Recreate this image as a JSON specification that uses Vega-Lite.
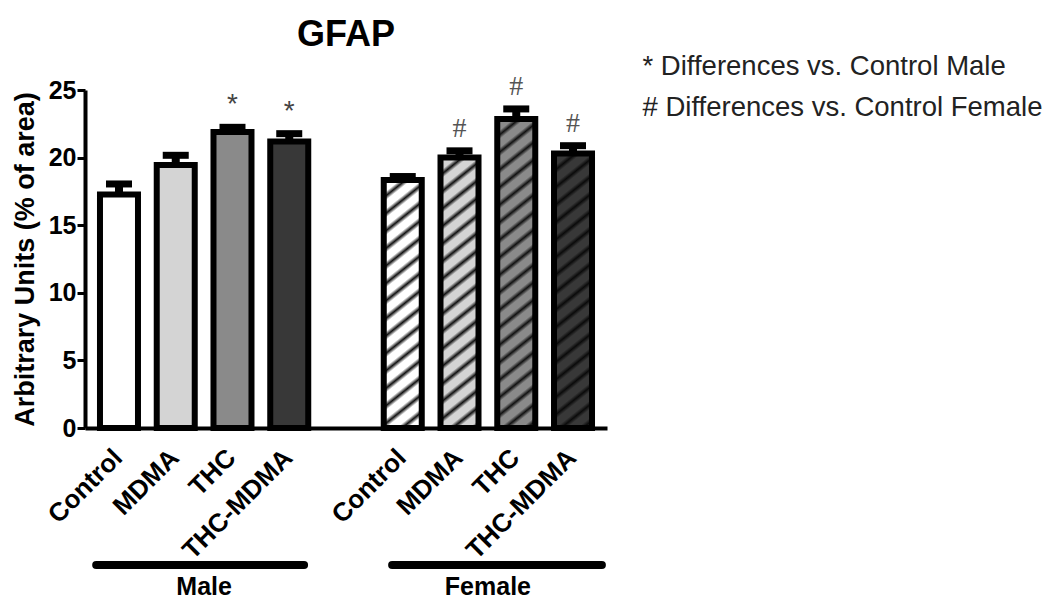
{
  "$schema": "https://vega.github.io/schema/vega-lite/v6.json",
  "width": 522,
  "height": 338,
  "autosize": "none",
  "padding": {"left": 85, "top": 90, "right": 440, "bottom": 173},
  "background": "white",
  "title": {"text": "GFAP", "fontSize": 36, "font": "Liberation Sans", "fontWeight": "bold", "color": "black", "anchor": "middle", "frame": "group", "offset": -1},
  "config": {"font": "Liberation Sans", "view": {"stroke": null}},
  "datasets": {
    "bars": [
      {"key": "M|Control", "sex": "Male", "treat": "Control", "mean": 17.27, "upper": 18.05, "sig": ""},
      {"key": "M|MDMA", "sex": "Male", "treat": "MDMA", "mean": 19.45, "upper": 20.17, "sig": ""},
      {"key": "M|THC", "sex": "Male", "treat": "THC", "mean": 21.9, "upper": 22.24, "sig": "*"},
      {"key": "M|THC-MDMA", "sex": "Male", "treat": "THC-MDMA", "mean": 21.2, "upper": 21.77, "sig": "*"},
      {"key": "F|Control", "sex": "Female", "treat": "Control", "mean": 18.34, "upper": 18.6, "sig": ""},
      {"key": "F|MDMA", "sex": "Female", "treat": "MDMA", "mean": 20.0, "upper": 20.5, "sig": "#"},
      {"key": "F|THC", "sex": "Female", "treat": "THC", "mean": 22.85, "upper": 23.6, "sig": "#"},
      {"key": "F|THC-MDMA", "sex": "Female", "treat": "THC-MDMA", "mean": 20.3, "upper": 20.88, "sig": "#"}
    ],
    "groups": [
      {"group": "Male", "first": "M|Control", "last": "M|THC-MDMA", "mid": "M|MDMA"},
      {"group": "Female", "first": "F|Control", "last": "F|THC-MDMA", "mid": "F|MDMA"}
    ]
  },
  "layer": [
    {
      "data": {"name": "bars"},
      "mark": {"type": "bar", "stroke": "black", "strokeWidth": 6, "strokeJoin": "miter"},
      "encoding": {
        "x": {"field": "key", "type": "nominal", "sort": null,
          "scale": {"domain": ["M|Control", "M|MDMA", "M|THC", "M|THC-MDMA", "gap", "F|Control", "F|MDMA", "F|THC", "F|THC-MDMA"], "paddingInner": 0.3304, "paddingOuter": 0.264},
          "axis": {"title": null, "ticks": false, "domainColor": "black", "domainWidth": 4, "labelAngle": -45, "labelFontSize": 26, "labelFontWeight": "bold", "labelColor": "black", "labelPadding": 16, "labelOffset": -10, "labelLimit": 400, "labelOverlap": false, "labelBound": false,
            "labelExpr": "datum.value === 'gap' ? '' : split(datum.value, '|')[1]"}},
        "y": {"field": "mean", "type": "quantitative",
          "scale": {"domain": [0, 25], "nice": false, "zero": true},
          "axis": {"title": "Arbitrary Units (% of area)", "titleFontSize": 27, "titleFontWeight": "bold", "titleColor": "black", "titlePadding": 9, "values": [0, 5, 10, 15, 20, 25], "grid": false, "domainColor": "black", "domainWidth": 4, "tickColor": "black", "tickWidth": 3, "tickSize": 8, "labelFontSize": 25, "labelFontWeight": "bold", "labelColor": "black", "labelPadding": 1}},
        "fill": {"field": "key", "type": "nominal", "legend": null,
          "scale": {"domain": ["M|Control", "M|MDMA", "M|THC", "M|THC-MDMA", "F|Control", "F|MDMA", "F|THC", "F|THC-MDMA"], "range": ["#ffffff", "#d4d4d4", "#8a8a8a", "#383838", "#ffffff", "#d4d4d4", "#8a8a8a", "#383838"]},
          "condition": [
            {"test": "datum.key === 'F|Control'", "value": {"gradient": "linear", "x1": 0, "y1": 0, "x2": 0.1704, "y2": 1.3904, "stops": [
              {"offset": 0, "color": "#111111"}, {"offset": 0.013, "color": "#ffffff"}, {"offset": 0.037, "color": "#ffffff"},
              {"offset": 0.05, "color": "#111111"}, {"offset": 0.063, "color": "#ffffff"}, {"offset": 0.087, "color": "#ffffff"},
              {"offset": 0.10, "color": "#111111"}, {"offset": 0.113, "color": "#ffffff"}, {"offset": 0.137, "color": "#ffffff"},
              {"offset": 0.15, "color": "#111111"}, {"offset": 0.163, "color": "#ffffff"}, {"offset": 0.187, "color": "#ffffff"},
              {"offset": 0.20, "color": "#111111"}, {"offset": 0.213, "color": "#ffffff"}, {"offset": 0.237, "color": "#ffffff"},
              {"offset": 0.25, "color": "#111111"}, {"offset": 0.263, "color": "#ffffff"}, {"offset": 0.287, "color": "#ffffff"},
              {"offset": 0.30, "color": "#111111"}, {"offset": 0.313, "color": "#ffffff"}, {"offset": 0.337, "color": "#ffffff"},
              {"offset": 0.35, "color": "#111111"}, {"offset": 0.363, "color": "#ffffff"}, {"offset": 0.387, "color": "#ffffff"},
              {"offset": 0.40, "color": "#111111"}, {"offset": 0.413, "color": "#ffffff"}, {"offset": 0.437, "color": "#ffffff"},
              {"offset": 0.45, "color": "#111111"}, {"offset": 0.463, "color": "#ffffff"}, {"offset": 0.487, "color": "#ffffff"},
              {"offset": 0.50, "color": "#111111"}, {"offset": 0.513, "color": "#ffffff"}, {"offset": 0.537, "color": "#ffffff"},
              {"offset": 0.55, "color": "#111111"}, {"offset": 0.563, "color": "#ffffff"}, {"offset": 0.587, "color": "#ffffff"},
              {"offset": 0.60, "color": "#111111"}, {"offset": 0.613, "color": "#ffffff"}, {"offset": 0.637, "color": "#ffffff"},
              {"offset": 0.65, "color": "#111111"}, {"offset": 0.663, "color": "#ffffff"}, {"offset": 0.687, "color": "#ffffff"},
              {"offset": 0.70, "color": "#111111"}, {"offset": 0.713, "color": "#ffffff"}, {"offset": 0.737, "color": "#ffffff"},
              {"offset": 0.75, "color": "#111111"}, {"offset": 0.763, "color": "#ffffff"}, {"offset": 0.787, "color": "#ffffff"},
              {"offset": 0.80, "color": "#111111"}, {"offset": 0.813, "color": "#ffffff"}, {"offset": 0.837, "color": "#ffffff"},
              {"offset": 0.85, "color": "#111111"}, {"offset": 0.863, "color": "#ffffff"}, {"offset": 0.887, "color": "#ffffff"},
              {"offset": 0.90, "color": "#111111"}, {"offset": 0.913, "color": "#ffffff"}, {"offset": 0.937, "color": "#ffffff"},
              {"offset": 0.95, "color": "#111111"}, {"offset": 0.963, "color": "#ffffff"}, {"offset": 0.987, "color": "#ffffff"},
              {"offset": 1, "color": "#111111"}]}},
            {"test": "datum.key === 'F|MDMA'", "value": {"gradient": "linear", "x1": 0, "y1": 0, "x2": 0.1437, "y2": 1.2782, "stops": [
              {"offset": 0, "color": "#111111"}, {"offset": 0.013, "color": "#d4d4d4"}, {"offset": 0.037, "color": "#d4d4d4"},
              {"offset": 0.05, "color": "#111111"}, {"offset": 0.063, "color": "#d4d4d4"}, {"offset": 0.087, "color": "#d4d4d4"},
              {"offset": 0.10, "color": "#111111"}, {"offset": 0.113, "color": "#d4d4d4"}, {"offset": 0.137, "color": "#d4d4d4"},
              {"offset": 0.15, "color": "#111111"}, {"offset": 0.163, "color": "#d4d4d4"}, {"offset": 0.187, "color": "#d4d4d4"},
              {"offset": 0.20, "color": "#111111"}, {"offset": 0.213, "color": "#d4d4d4"}, {"offset": 0.237, "color": "#d4d4d4"},
              {"offset": 0.25, "color": "#111111"}, {"offset": 0.263, "color": "#d4d4d4"}, {"offset": 0.287, "color": "#d4d4d4"},
              {"offset": 0.30, "color": "#111111"}, {"offset": 0.313, "color": "#d4d4d4"}, {"offset": 0.337, "color": "#d4d4d4"},
              {"offset": 0.35, "color": "#111111"}, {"offset": 0.363, "color": "#d4d4d4"}, {"offset": 0.387, "color": "#d4d4d4"},
              {"offset": 0.40, "color": "#111111"}, {"offset": 0.413, "color": "#d4d4d4"}, {"offset": 0.437, "color": "#d4d4d4"},
              {"offset": 0.45, "color": "#111111"}, {"offset": 0.463, "color": "#d4d4d4"}, {"offset": 0.487, "color": "#d4d4d4"},
              {"offset": 0.50, "color": "#111111"}, {"offset": 0.513, "color": "#d4d4d4"}, {"offset": 0.537, "color": "#d4d4d4"},
              {"offset": 0.55, "color": "#111111"}, {"offset": 0.563, "color": "#d4d4d4"}, {"offset": 0.587, "color": "#d4d4d4"},
              {"offset": 0.60, "color": "#111111"}, {"offset": 0.613, "color": "#d4d4d4"}, {"offset": 0.637, "color": "#d4d4d4"},
              {"offset": 0.65, "color": "#111111"}, {"offset": 0.663, "color": "#d4d4d4"}, {"offset": 0.687, "color": "#d4d4d4"},
              {"offset": 0.70, "color": "#111111"}, {"offset": 0.713, "color": "#d4d4d4"}, {"offset": 0.737, "color": "#d4d4d4"},
              {"offset": 0.75, "color": "#111111"}, {"offset": 0.763, "color": "#d4d4d4"}, {"offset": 0.787, "color": "#d4d4d4"},
              {"offset": 0.80, "color": "#111111"}, {"offset": 0.813, "color": "#d4d4d4"}, {"offset": 0.837, "color": "#d4d4d4"},
              {"offset": 0.85, "color": "#111111"}, {"offset": 0.863, "color": "#d4d4d4"}, {"offset": 0.887, "color": "#d4d4d4"},
              {"offset": 0.90, "color": "#111111"}, {"offset": 0.913, "color": "#d4d4d4"}, {"offset": 0.937, "color": "#d4d4d4"},
              {"offset": 0.95, "color": "#111111"}, {"offset": 0.963, "color": "#d4d4d4"}, {"offset": 0.987, "color": "#d4d4d4"},
              {"offset": 1, "color": "#111111"}]}},
            {"test": "datum.key === 'F|THC'", "value": {"gradient": "linear", "x1": 0, "y1": 0, "x2": 0.1104, "y2": 1.1222, "stops": [
              {"offset": 0, "color": "#111111"}, {"offset": 0.013, "color": "#8a8a8a"}, {"offset": 0.037, "color": "#8a8a8a"},
              {"offset": 0.05, "color": "#111111"}, {"offset": 0.063, "color": "#8a8a8a"}, {"offset": 0.087, "color": "#8a8a8a"},
              {"offset": 0.10, "color": "#111111"}, {"offset": 0.113, "color": "#8a8a8a"}, {"offset": 0.137, "color": "#8a8a8a"},
              {"offset": 0.15, "color": "#111111"}, {"offset": 0.163, "color": "#8a8a8a"}, {"offset": 0.187, "color": "#8a8a8a"},
              {"offset": 0.20, "color": "#111111"}, {"offset": 0.213, "color": "#8a8a8a"}, {"offset": 0.237, "color": "#8a8a8a"},
              {"offset": 0.25, "color": "#111111"}, {"offset": 0.263, "color": "#8a8a8a"}, {"offset": 0.287, "color": "#8a8a8a"},
              {"offset": 0.30, "color": "#111111"}, {"offset": 0.313, "color": "#8a8a8a"}, {"offset": 0.337, "color": "#8a8a8a"},
              {"offset": 0.35, "color": "#111111"}, {"offset": 0.363, "color": "#8a8a8a"}, {"offset": 0.387, "color": "#8a8a8a"},
              {"offset": 0.40, "color": "#111111"}, {"offset": 0.413, "color": "#8a8a8a"}, {"offset": 0.437, "color": "#8a8a8a"},
              {"offset": 0.45, "color": "#111111"}, {"offset": 0.463, "color": "#8a8a8a"}, {"offset": 0.487, "color": "#8a8a8a"},
              {"offset": 0.50, "color": "#111111"}, {"offset": 0.513, "color": "#8a8a8a"}, {"offset": 0.537, "color": "#8a8a8a"},
              {"offset": 0.55, "color": "#111111"}, {"offset": 0.563, "color": "#8a8a8a"}, {"offset": 0.587, "color": "#8a8a8a"},
              {"offset": 0.60, "color": "#111111"}, {"offset": 0.613, "color": "#8a8a8a"}, {"offset": 0.637, "color": "#8a8a8a"},
              {"offset": 0.65, "color": "#111111"}, {"offset": 0.663, "color": "#8a8a8a"}, {"offset": 0.687, "color": "#8a8a8a"},
              {"offset": 0.70, "color": "#111111"}, {"offset": 0.713, "color": "#8a8a8a"}, {"offset": 0.737, "color": "#8a8a8a"},
              {"offset": 0.75, "color": "#111111"}, {"offset": 0.763, "color": "#8a8a8a"}, {"offset": 0.787, "color": "#8a8a8a"},
              {"offset": 0.80, "color": "#111111"}, {"offset": 0.813, "color": "#8a8a8a"}, {"offset": 0.837, "color": "#8a8a8a"},
              {"offset": 0.85, "color": "#111111"}, {"offset": 0.863, "color": "#8a8a8a"}, {"offset": 0.887, "color": "#8a8a8a"},
              {"offset": 0.90, "color": "#111111"}, {"offset": 0.913, "color": "#8a8a8a"}, {"offset": 0.937, "color": "#8a8a8a"},
              {"offset": 0.95, "color": "#111111"}, {"offset": 0.963, "color": "#8a8a8a"}, {"offset": 0.987, "color": "#8a8a8a"},
              {"offset": 1, "color": "#111111"}]}},
            {"test": "datum.key === 'F|THC-MDMA'", "value": {"gradient": "linear", "x1": 0, "y1": 0, "x2": 0.1395, "y2": 1.2597, "stops": [
              {"offset": 0, "color": "#0a0a0a"}, {"offset": 0.013, "color": "#383838"}, {"offset": 0.037, "color": "#383838"},
              {"offset": 0.05, "color": "#0a0a0a"}, {"offset": 0.063, "color": "#383838"}, {"offset": 0.087, "color": "#383838"},
              {"offset": 0.10, "color": "#0a0a0a"}, {"offset": 0.113, "color": "#383838"}, {"offset": 0.137, "color": "#383838"},
              {"offset": 0.15, "color": "#0a0a0a"}, {"offset": 0.163, "color": "#383838"}, {"offset": 0.187, "color": "#383838"},
              {"offset": 0.20, "color": "#0a0a0a"}, {"offset": 0.213, "color": "#383838"}, {"offset": 0.237, "color": "#383838"},
              {"offset": 0.25, "color": "#0a0a0a"}, {"offset": 0.263, "color": "#383838"}, {"offset": 0.287, "color": "#383838"},
              {"offset": 0.30, "color": "#0a0a0a"}, {"offset": 0.313, "color": "#383838"}, {"offset": 0.337, "color": "#383838"},
              {"offset": 0.35, "color": "#0a0a0a"}, {"offset": 0.363, "color": "#383838"}, {"offset": 0.387, "color": "#383838"},
              {"offset": 0.40, "color": "#0a0a0a"}, {"offset": 0.413, "color": "#383838"}, {"offset": 0.437, "color": "#383838"},
              {"offset": 0.45, "color": "#0a0a0a"}, {"offset": 0.463, "color": "#383838"}, {"offset": 0.487, "color": "#383838"},
              {"offset": 0.50, "color": "#0a0a0a"}, {"offset": 0.513, "color": "#383838"}, {"offset": 0.537, "color": "#383838"},
              {"offset": 0.55, "color": "#0a0a0a"}, {"offset": 0.563, "color": "#383838"}, {"offset": 0.587, "color": "#383838"},
              {"offset": 0.60, "color": "#0a0a0a"}, {"offset": 0.613, "color": "#383838"}, {"offset": 0.637, "color": "#383838"},
              {"offset": 0.65, "color": "#0a0a0a"}, {"offset": 0.663, "color": "#383838"}, {"offset": 0.687, "color": "#383838"},
              {"offset": 0.70, "color": "#0a0a0a"}, {"offset": 0.713, "color": "#383838"}, {"offset": 0.737, "color": "#383838"},
              {"offset": 0.75, "color": "#0a0a0a"}, {"offset": 0.763, "color": "#383838"}, {"offset": 0.787, "color": "#383838"},
              {"offset": 0.80, "color": "#0a0a0a"}, {"offset": 0.813, "color": "#383838"}, {"offset": 0.837, "color": "#383838"},
              {"offset": 0.85, "color": "#0a0a0a"}, {"offset": 0.863, "color": "#383838"}, {"offset": 0.887, "color": "#383838"},
              {"offset": 0.90, "color": "#0a0a0a"}, {"offset": 0.913, "color": "#383838"}, {"offset": 0.937, "color": "#383838"},
              {"offset": 0.95, "color": "#0a0a0a"}, {"offset": 0.963, "color": "#383838"}, {"offset": 0.987, "color": "#383838"},
              {"offset": 1, "color": "#0a0a0a"}]}}
          ]}
      }
    },
    {
      "data": {"name": "bars"},
      "mark": {"type": "rule", "color": "black", "strokeWidth": 8},
      "encoding": {
        "x": {"field": "key", "type": "nominal"},
        "y": {"field": "mean", "type": "quantitative"},
        "y2": {"field": "upper"}
      }
    },
    {
      "data": {"name": "bars"},
      "mark": {"type": "tick", "color": "black", "thickness": 7, "size": 26, "opacity": 1},
      "encoding": {
        "x": {"field": "key", "type": "nominal"},
        "y": {"field": "upper", "type": "quantitative"}
      }
    },
    {
      "data": {"name": "bars"},
      "transform": [{"filter": "datum.sig === '*'"}],
      "mark": {"type": "text", "font": "Liberation Sans", "fontSize": 28, "baseline": "alphabetic", "dy": -14},
      "encoding": {
        "x": {"field": "key", "type": "nominal"},
        "y": {"field": "upper", "type": "quantitative"},
        "text": {"field": "sig"},
        "color": {"field": "sig", "type": "nominal",
          "scale": {"domain": ["*", "#"], "range": ["#444444", "#555555"]},
          "legend": {"orient": "none", "legendX": 530, "legendY": -37, "title": null, "padding": 0, "symbolSize": 0, "symbolOpacity": 0, "symbolStrokeWidth": 0, "labelOffset": 0, "labelFontSize": 27.5, "labelFont": "Liberation Sans", "labelColor": "#222222", "labelLimit": 600, "rowPadding": 12.5,
            "labelExpr": "datum.value === '*' ? '* Differences vs. Control Male' : '# Differences vs. Control Female'"}}
      }
    },
    {
      "data": {"name": "bars"},
      "transform": [{"filter": "datum.sig === '#'"}],
      "mark": {"type": "text", "font": "Liberation Serif", "fontSize": 28, "baseline": "alphabetic", "dy": -14},
      "encoding": {
        "x": {"field": "key", "type": "nominal"},
        "y": {"field": "upper", "type": "quantitative"},
        "text": {"field": "sig"},
        "color": {"field": "sig", "type": "nominal"}
      }
    },
    {
      "data": {"name": "groups"},
      "transform": [{"filter": "datum.group === 'Male'"}],
      "mark": {"type": "rule", "color": "black", "strokeWidth": 8, "strokeCap": "round"},
      "encoding": {
        "x": {"field": "first", "type": "nominal", "bandPosition": -0.1},
        "x2": {"field": "last", "bandPosition": 0.89},
        "y": {"datum": -10.13}
      }
    },
    {
      "data": {"name": "groups"},
      "transform": [{"filter": "datum.group === 'Female'"}],
      "mark": {"type": "rule", "color": "black", "strokeWidth": 8, "strokeCap": "round"},
      "encoding": {
        "x": {"field": "first", "type": "nominal", "bandPosition": 0.22},
        "x2": {"field": "last", "bandPosition": 1.26},
        "y": {"datum": -10.13}
      }
    },
    {
      "data": {"name": "groups"},
      "mark": {"type": "text", "fontSize": 25, "fontWeight": "bold", "color": "black", "baseline": "middle", "align": "center"},
      "encoding": {
        "x": {"field": "mid", "type": "nominal", "bandPosition": 1.247},
        "y": {"datum": -11.75},
        "text": {"field": "group"}
      }
    }
  ]
}
